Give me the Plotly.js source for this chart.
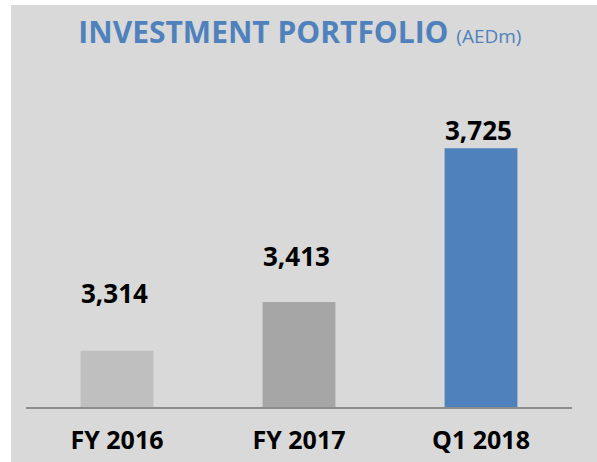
<!DOCTYPE html>
<html>
<head>
<meta charset="utf-8">
<script src="https://cdn.plot.ly/plotly-3.0.1.min.js"></script>
<style>
  html, body { margin: 0; padding: 0; background: #ffffff; width: 597px; height: 462px; overflow: hidden; }
  #chart { position: absolute; left: 11px; top: 5px; width: 586px; height: 457px; }
</style>
</head>
<body>
<div id="chart"></div>
<script>
// Data
const categories = ["FY 2016", "FY 2017", "Q1 2018"];
const values = [3314, 3413, 3725];
const valueLabels = ["3,314", "3,413", "3,725"];

// Styles
const barColors = ["#bfbfbf", "#a6a6a6", "#4f81bd"];
const labelShift = [58, 46, 18];

const trace = {
  type: "bar",
  x: categories,
  y: values,
  marker: { color: barColors, line: { width: 0 } },
  hoverinfo: "none",
  cliponaxis: true
};

const annotations = categories.map((c, i) => ({
  x: c,
  y: values[i],
  xref: "x",
  yref: "y",
  text: "<b>" + valueLabels[i] + "</b>",
  showarrow: false,
  yanchor: "middle",
  xanchor: "center",
  yshift: labelShift[i],
  xshift: -3,
  font: { family: "Open Sans, sans-serif", size: 26, color: "#000000" }
}));

const layout = {
  width: 586,
  height: 457,
  paper_bgcolor: "#d9d9d9",
  plot_bgcolor: "#d9d9d9",
  margin: { l: 15, r: 25, t: 55, b: 55, pad: 0 },
  showlegend: false,
  bargap: 0.6,
  title: {
    text: '<b>INVESTMENT PORTFOLIO</b> <span style="font-size:19px">(AEDm)</span>',
    font: { family: "Open Sans, sans-serif", size: 30, color: "#4f81bd" },
    xref: "container",
    yref: "container",
    x: 0.493,
    y: 0.94,
    xanchor: "center",
    yanchor: "middle"
  },
  xaxis: {
    type: "category",
    showline: true,
    linecolor: "#8c8c8c",
    linewidth: 2,
    ticks: "",
    showgrid: false,
    zeroline: false,
    tickfont: { family: "Open Sans, sans-serif", size: 25, color: "#000000", weight: "bold" },
    ticklabelstandoff: 10,
    fixedrange: true
  },
  yaxis: {
    range: [3200, 3904],
    visible: false,
    showgrid: false,
    zeroline: false,
    fixedrange: true
  },
  annotations: annotations
};

Plotly.newPlot("chart", [trace], layout, { displayModeBar: false, staticPlot: true });
</script>
</body>
</html>
